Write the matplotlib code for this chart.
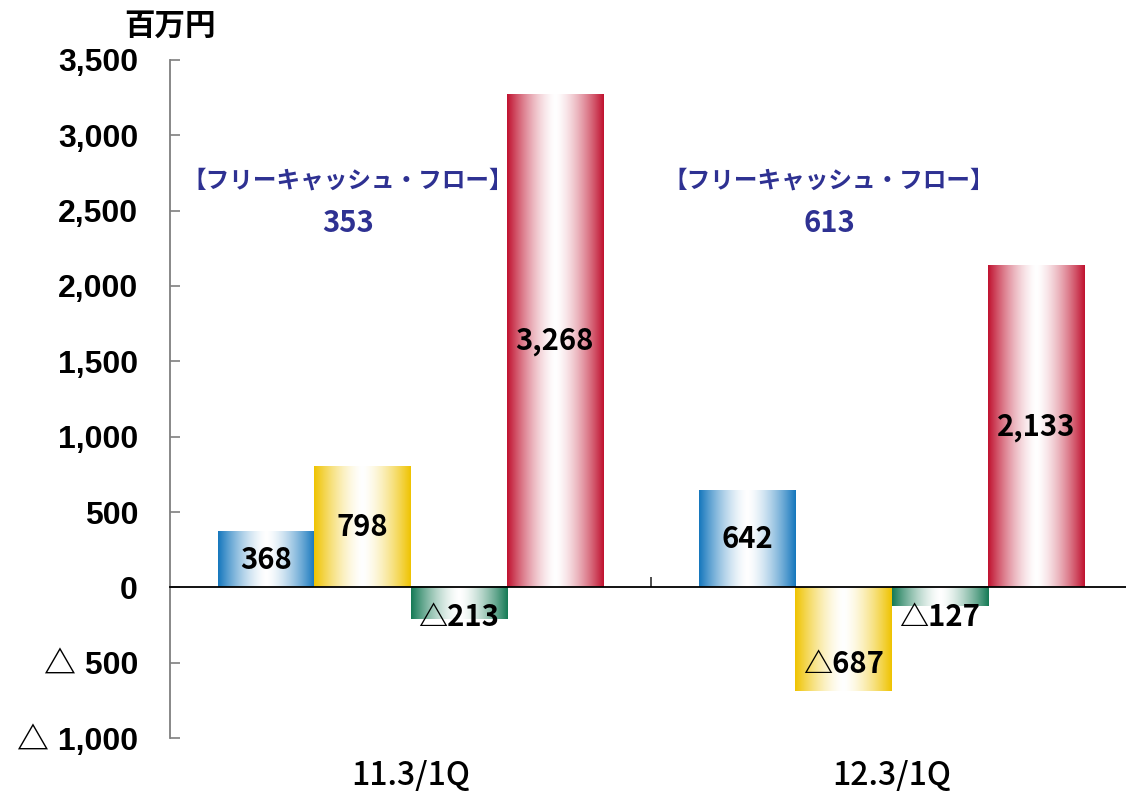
import numpy as np
import matplotlib
matplotlib.use("Agg")
import matplotlib.pyplot as plt
from matplotlib.ticker import FuncFormatter, FixedLocator

# data
categories = ["11.3/1Q", "12.3/1Q"]
series_colors = ["#1577bd", "#efc300", "#157a55", "#c0122f"]
values = [
    [368, 798, -213, 3268],
    [642, -687, -127, 2133],
]
fcf_title = "【フリーキャッシュ・フロー】"
fcf_values = [353, 613]
unit_label = "百万円"

JP = "Noto Sans CJK JP"


def fmt_num(v):
    s = f"{abs(int(v)):,}"
    return s if v >= 0 else "△" + s


def gradient_rgb(color, n=256, p=1.5):
    c = np.array(matplotlib.colors.to_rgb(color))
    t = np.abs(np.linspace(-1, 1, n)) ** p
    rgb = (1 - t)[:, None] * np.ones(3) + t[:, None] * c
    return rgb[None, :, :]


W, H = 1126, 796
fig = plt.figure(figsize=(W / 100, H / 100), dpi=100)
ax = fig.add_axes([170 / W, 58 / H, 956 / W, 678 / H])

bar_w = 0.2
xlim = (-0.5, 1.4875)
ylim = (-1000, 3500)

for gi, vals in enumerate(values):
    for si, v in enumerate(vals):
        xc = gi + (si - 1.5) * bar_w
        bars = ax.bar(xc, v, width=bar_w, color="none", edgecolor="none", zorder=1)
        r = bars[0]
        x0, x1 = r.get_x(), r.get_x() + r.get_width()
        y0, y1 = sorted([r.get_y(), r.get_y() + r.get_height()])
        ax.imshow(gradient_rgb(series_colors[si]), extent=[x0, x1, y0, y1],
                  aspect="auto", interpolation="bilinear", zorder=1)
        # data label: centre of positive bars, near the end of negative ones
        ly = v / 2 if v > 0 else min(v + 180, -200)
        ax.text(xc, ly, fmt_num(v), ha="center", va="center",
                fontsize=21, fontweight="bold", family=[JP], color="black", zorder=5)

    ax.text(gi - 0.13, 2700, fcf_title, ha="center", va="center",
            fontsize=17, fontweight="bold", family=[JP], color="#2e3192")
    ax.text(gi - 0.13, 2420, str(fcf_values[gi]), ha="center", va="center",
            fontsize=21, fontweight="bold", family=[JP], color="#2e3192")

ax.set_xlim(*xlim)
ax.set_ylim(*ylim)

# spines
for s in ["top", "right"]:
    ax.spines[s].set_visible(False)
ax.spines["left"].set_color("#7f7f7f")
ax.spines["left"].set_linewidth(1.3)
ax.spines["bottom"].set_position(("data", 0))
ax.spines["bottom"].set_color("black")
ax.spines["bottom"].set_linewidth(1.3)

# y axis
ax.yaxis.set_major_locator(FixedLocator(np.arange(-1000, 3501, 500)))
ax.yaxis.set_major_formatter(FuncFormatter(
    lambda v, pos: f"{int(v):,}" if v >= 0 else "△ " + f"{abs(int(v)):,}"))
ax.tick_params(axis="y", direction="in", length=7, width=1.2, color="#7f7f7f", pad=23)
for lab in ax.get_yticklabels():
    lab.set_fontfamily(["Liberation Sans", JP])
    lab.set_fontweight("bold")
    lab.set_fontsize(23)

# x axis: labels at bottom, separator tick at the zero line
ax.set_xticks([0, 1])
ax.set_xticklabels(categories)
ax.set_xticks([0.5], minor=True)
ax.tick_params(axis="x", which="major", length=0, pad=124)
ax.tick_params(axis="x", which="minor", direction="in", length=7, width=1.3, color="#404040")
for lab in ax.get_xticklabels():
    lab.set_fontfamily([JP])
    lab.set_fontweight("medium")
    lab.set_fontsize(23)

fig.text(170 / W, 1 - 26 / H, unit_label, ha="center", va="center",
         fontsize=22, fontweight="bold", family=[JP])

fig.savefig("out.png", dpi=100)
